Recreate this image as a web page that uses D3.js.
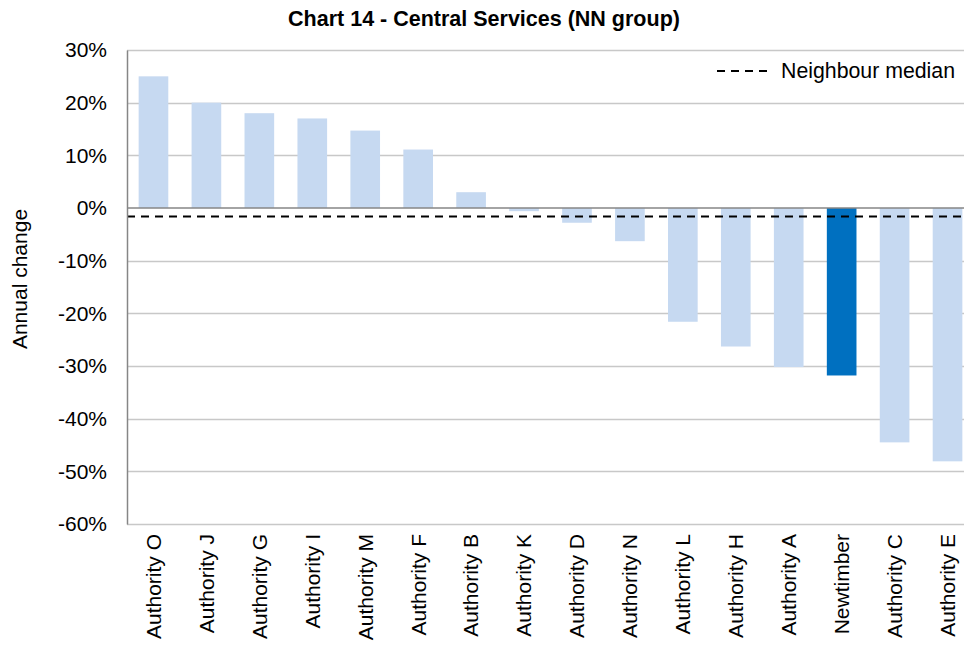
<!DOCTYPE html>
<html>
<head>
<meta charset="utf-8">
<script src="https://cdn.jsdelivr.net/npm/d3@7"></script>
<style>
  body { margin: 0; background: #fff; }
  text { font-family: "Liberation Sans", Arial, sans-serif; fill: #000; }
</style>
</head>
<body>
<div id="chart"></div>
<script>
// Data
const categories = ["Authority O", "Authority J", "Authority G", "Authority I", "Authority M",
  "Authority F", "Authority B", "Authority K", "Authority D", "Authority N", "Authority L",
  "Authority H", "Authority A", "Newtimber", "Authority C", "Authority E"];
const values = [25.0, 20.0, 18.0, 17.0, 14.7, 11.1, 3.0, -0.6, -2.8, -6.3, -21.6,
  -26.3, -30.2, -31.8, -44.5, -48.1];
const highlight = "Newtimber";
const neighbourMedian = -1.6;
const yTicks = [30, 20, 10, 0, -10, -20, -30, -40, -50, -60];

const W = 964, H = 648;
const margin = { top: 50, right: -10, bottom: 124, left: 127 };

const svg = d3.select("#chart").append("svg")
  .attr("width", W).attr("height", H);

const x = d3.scaleBand()
  .domain(categories)
  .range([margin.left, W - margin.right])
  .paddingInner(0.44)
  .paddingOuter(0.22);

const y = d3.scaleLinear()
  .domain([-60, 30])
  .range([H - margin.bottom, margin.top]);

// Gridlines
svg.append("g")
  .selectAll("line")
  .data(yTicks.filter(t => t !== 0))
  .join("line")
    .attr("x1", margin.left).attr("x2", W - margin.right)
    .attr("y1", d => Math.round(y(d)) + 0.5).attr("y2", d => Math.round(y(d)) + 0.5)
    .attr("stroke", "#c8c8c8")
    .attr("stroke-width", 1.5);

// Bars
svg.append("g")
  .selectAll("rect")
  .data(categories)
  .join("rect")
    .attr("x", d => x(d))
    .attr("width", x.bandwidth())
    .attr("y", (d, i) => y(Math.max(0, values[i])))
    .attr("height", (d, i) => Math.abs(y(values[i]) - y(0)))
    .attr("fill", d => d === highlight ? "#0070c0" : "#c6d9f1");

// Zero line
svg.append("line")
  .attr("x1", margin.left).attr("x2", W - margin.right)
  .attr("y1", y(0)).attr("y2", y(0))
  .attr("stroke", "#868686")
  .attr("stroke-width", 1.5);

// Neighbour median
svg.append("line")
  .attr("x1", margin.left).attr("x2", W - margin.right)
  .attr("y1", y(neighbourMedian)).attr("y2", y(neighbourMedian))
  .attr("stroke", "#000")
  .attr("stroke-width", 2)
  .attr("stroke-dasharray", "8,6");

// Y axis
const yAxis = svg.append("g")
  .attr("transform", `translate(${margin.left},0)`)
  .call(d3.axisLeft(y).tickValues(yTicks).tickSize(0).tickPadding(20)
    .tickFormat(d => d + "%"));
yAxis.select(".domain").attr("stroke", "#868686").attr("stroke-width", 1.5);
yAxis.selectAll("text")
  .attr("font-size", 21)
  .attr("font-family", "Liberation Sans, Arial, sans-serif");

// X axis labels
const xAxis = svg.append("g")
  .attr("transform", `translate(0,${H - margin.bottom})`)
  .call(d3.axisBottom(x).tickSize(0));
xAxis.select(".domain").remove();
xAxis.selectAll("text")
  .attr("font-size", 21)
  .attr("font-family", "Liberation Sans, Arial, sans-serif")
  .attr("transform", "rotate(-90)")
  .attr("text-anchor", "end")
  .attr("x", -10)
  .attr("y", 0)
  .attr("dy", "0.35em");

// Y axis title
svg.append("text")
  .attr("transform", `translate(27,${(margin.top + H - margin.bottom) / 2 - 8}) rotate(-90)`)
  .attr("text-anchor", "middle")
  .attr("font-size", 21)
  .text("Annual change");

// Title
svg.append("text")
  .attr("x", 484).attr("y", 26)
  .attr("text-anchor", "middle")
  .attr("font-size", 21.5)
  .attr("font-weight", "bold")
  .text("Chart 14 - Central Services (NN group)");

// Legend
const legend = svg.append("g").attr("transform", "translate(717,71)");
legend.append("line")
  .attr("x1", 0).attr("x2", 55)
  .attr("stroke", "#000")
  .attr("stroke-width", 2)
  .attr("stroke-dasharray", "8,6");
legend.append("text")
  .attr("x", 64).attr("dy", "0.35em")
  .attr("font-size", 21.3)
  .text("Neighbour median");
</script>
</body>
</html>
